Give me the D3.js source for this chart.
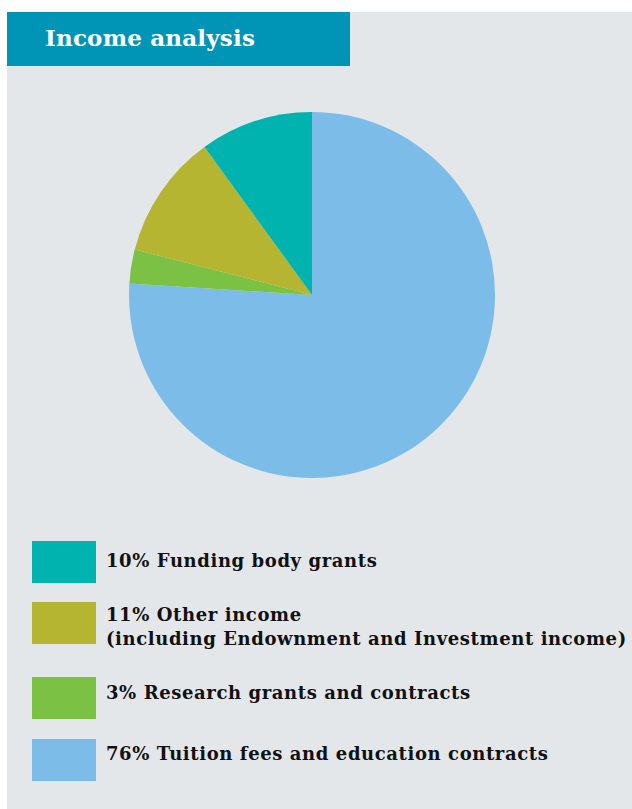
<!DOCTYPE html>
<html>
<head>
<meta charset="utf-8">
<script src="https://cdn.jsdelivr.net/npm/d3@7/dist/d3.min.js"></script>
<style>
  html, body { margin: 0; padding: 0; background: #ffffff; }
  svg { display: block; }
  text { font-family: "DejaVu Serif", serif; font-weight: bold; }
</style>
</head>
<body>
<svg id="chart" width="632" height="809"></svg>
<script>
// Income shares (percent), legend order
const categories = ["Funding body grants", "Other income", "Research grants and contracts", "Tuition fees and education contracts"];
const shares = [10, 11, 3, 76];
const sublines = ["", "(including Endownment and Investment income)", "", ""];
const colors = ["#00b3ae", "#b5b532", "#7bc143", "#7bbde8"];

const svg = d3.select("#chart");
const W = 632, H = 809;

// panel background
svg.append("rect").attr("x", 7).attr("y", 12).attr("width", W - 7).attr("height", H - 12).attr("fill", "#e4e7ea");

// title bar
svg.append("rect").attr("x", 7).attr("y", 12).attr("width", 343).attr("height", 54).attr("fill", "#0095b6");
svg.append("text").attr("x", 45).attr("y", 46).attr("fill", "#ffffff")
  .style("font-size", "23px").style("letter-spacing", "0.2px").text("Income analysis");

// pie: tuition runs clockwise from 12 o'clock, the rest follow in reverse legend order
const order = [3, 2, 1, 0];
const pieData = order.map(i => ({ key: categories[i], value: shares[i], color: colors[i] }));
const pie = d3.pie().sort(null).value(d => d.value);
const arc = d3.arc().innerRadius(0).outerRadius(183);

const g = svg.append("g").attr("transform", "translate(312,295)");
g.selectAll("path").data(pie(pieData)).join("path")
  .attr("d", arc)
  .attr("fill", d => d.data.color);

// legend rows: swatch top and first text baseline
const rowTops = [541, 602, 677, 739];
const rowBase = [567, 621, 699, 760];
const legend = svg.append("g");
categories.forEach((c, i) => {
  legend.append("rect").attr("x", 32).attr("y", rowTops[i]).attr("width", 64).attr("height", 42).attr("fill", colors[i]);
  const t = legend.append("text").attr("x", 106).attr("y", rowBase[i])
    .attr("fill", "#111111").style("font-size", "18px").style("letter-spacing", "0.6px");
  t.append("tspan").text(shares[i] + "% " + c);
  if (sublines[i]) {
    t.append("tspan").attr("x", 106).attr("dy", 24).text(sublines[i]);
  }
});
</script>
</body>
</html>
